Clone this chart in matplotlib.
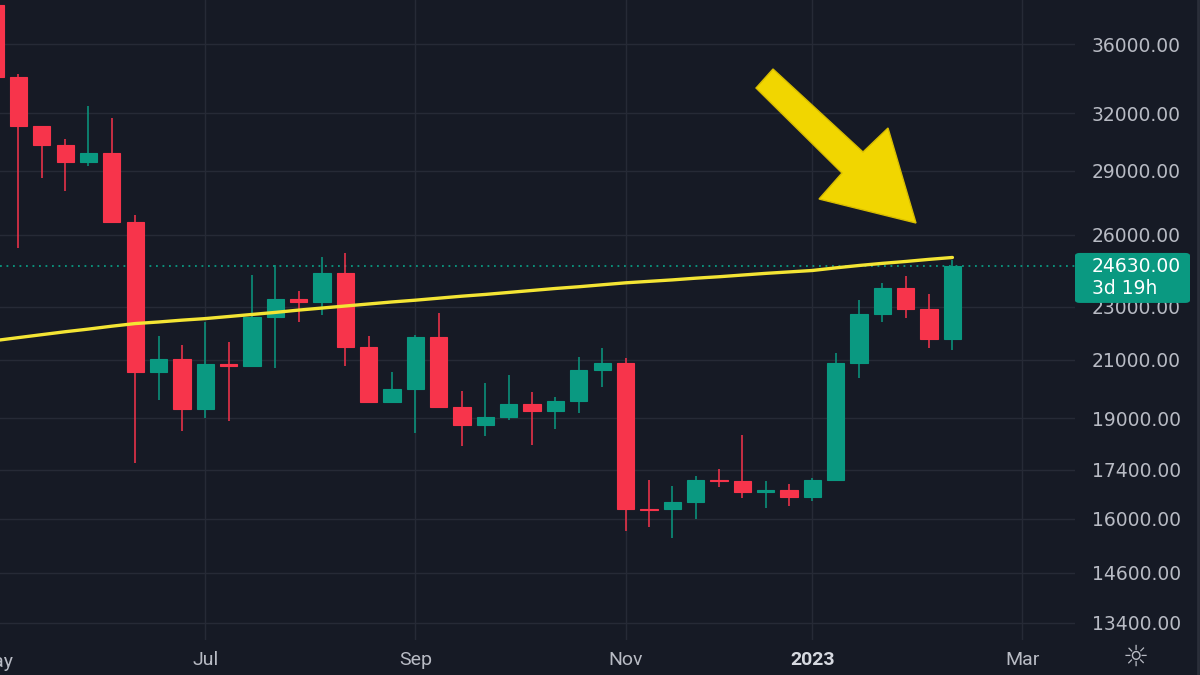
import numpy as np
import pandas as pd
import matplotlib
matplotlib.use("Agg")
import matplotlib.pyplot as plt
from matplotlib.patches import Polygon, FancyBboxPatch

# weekly BTC candles, week starts (Monday)
weeks = pd.date_range("2022-05-02", periods=42, freq="7D")

opens  = [38470, 34060, 31300, 30290, 29440, 29900, 26570, 20550, 21030, 19300,
          20850, 20780, 22600, 23290, 23175, 24340, 21450, 19540, 19980, 21830,
          19370, 18780, 19040, 19460, 19240, 19570, 20620, 20900, 16280, 16260,
          16460, 17110, 17070, 16740, 16820, 16600, 17110, 20880, 22710, 23730,
          22900, 21770]
highs  = [40020, 34240, 31330, 30610, 32400, 31750, 26880, 21860, 21520, 22400,
          21660, 24280, 24670, 23600, 25050, 25200, 21860, 20560, 21900, 22730,
          19920, 20180, 20460, 19890, 19700, 21090, 21440, 21050, 17110, 16930,
          17230, 17430, 18470, 17070, 16970, 17160, 21260, 23260, 23940, 24240,
          23480, 24900]
lows   = [33710, 25400, 28640, 28000, 29250, 26560, 17600, 19620, 18600, 19000,
          18900, 20750, 20720, 22400, 22660, 20760, 19520, 19500, 18530, 19340,
          18130, 18450, 18950, 18140, 18650, 19180, 20040, 15660, 15780, 15480,
          16000, 16890, 16580, 16290, 16370, 16500, 17100, 20350, 22390, 22540,
          21410, 21340]
closes = [34060, 31300, 30290, 29440, 29900, 26570, 20550, 21030, 19300, 20850,
          20780, 22600, 23290, 23175, 24340, 21450, 19540, 19980, 21830, 19370,
          18780, 19040, 19460, 19240, 19570, 20620, 20900, 16280, 16250, 16460,
          17110, 17070, 16740, 16820, 16600, 17110, 20880, 22710, 23730, 22900,
          21770, 24630]
ma200  = [21700, 21810, 21920, 22030, 22130, 22240, 22340, 22400, 22470, 22530,
          22610, 22690, 22770, 22860, 22940, 23020, 23100, 23180, 23250, 23330,
          23410, 23480, 23560, 23640, 23720, 23790, 23870, 23950, 24010, 24070,
          24140, 24200, 24270, 24340, 24400, 24460, 24570, 24670, 24760, 24840,
          24930, 25010]

price_ticks = [13400, 14600, 16000, 17400, 19000, 21000, 23000, 26000, 29000, 32000, 36000]
last_price = 24630
countdown = "3d 19h"
month_names = ["May", "Jul", "Sep", "Nov", "2023", "Mar"]
month_starts = ["2022-05", "2022-07", "2022-09", "2022-11", "2023-01", "2023-03"]

bg = "#161a25"
grid_c = "#262a36"
up_c = "#0a9981"
dn_c = "#f7344b"
txt_c = "#b8bbc4"

fig = plt.figure(figsize=(12, 6.75), dpi=100, facecolor=bg)
ax = fig.add_axes([0.0, 35 / 675, 1075 / 1200, 640 / 675])
ax.set_facecolor(bg)
for s in ax.spines.values():
    s.set_visible(False)

x = np.arange(len(weeks))
o = np.array(opens); h = np.array(highs); l = np.array(lows); c = np.array(closes)
cols = [up_c if cc >= oo else dn_c for oo, cc in zip(o, c)]

ax.vlines(x, l, h, colors=cols, linewidth=1.1, zorder=3)
ax.bar(x, np.abs(c - o), bottom=np.minimum(o, c), width=0.74, color=cols,
       edgecolor=cols, linewidth=0.8, zorder=4)

ax.plot(x, ma200, color="#f4e534", linewidth=2.4, zorder=5, solid_capstyle="round")
ax.axhline(last_price, color=up_c, linestyle=(0, (1, 2.6)), linewidth=1.3, zorder=2)

ax.set_yscale("log")
ax.set_xlim(0.21, 46.25)
ax.set_ylim(13010, 38830)
ax.minorticks_off()
ax.set_yticks(price_ticks)
ax.set_yticklabels([f"{p:.2f}" for p in price_ticks])
ax.yaxis.tick_right()
ax.tick_params(axis="y", length=0, pad=12, labelcolor=txt_c, labelsize=13.5)
for t in ax.get_yticklabels():
    t.set_fontfamily("DejaVu Sans")

# month ticks at the first weekly bar of each month
all_weeks = pd.date_range("2022-05-02", "2023-03-31", freq="7D")
tick_pos = []
for m in month_starts:
    idx = np.where(all_weeks.strftime("%Y-%m") == m)[0][0]
    tick_pos.append(idx)
ax.set_xticks(tick_pos[1:])
ax.set_xticklabels(month_names[1:])
ax.tick_params(axis="x", length=0, pad=8, labelcolor=txt_c, labelsize=14)
for t in ax.get_xticklabels():
    t.set_fontfamily("Roboto")
    if t.get_text() == "2023":
        t.set_fontweight("bold")
        t.set_color("#d6d9e0")
# "May" sits on the cut-off first bar
ax.text(tick_pos[0], -0.021, month_names[0], transform=ax.get_xaxis_transform(),
        ha="center", va="top", fontsize=14, color=txt_c, family="Roboto", clip_on=False)

ax.grid(True, color=grid_c, linewidth=1.0, zorder=0)
ax.set_axisbelow(True)

# last price badge on the price scale
yfig = fig.transFigure.inverted().transform(ax.transData.transform((0, last_price)))[1]
bx0, bx1 = 1075 / 1200, 1190 / 1200
bh = 50 / 675
badge = FancyBboxPatch((bx0, yfig - bh / 2 - 11.5 / 675), bx1 - bx0, bh,
                       boxstyle="round,pad=0,rounding_size=0.004",
                       transform=fig.transFigure, facecolor=up_c, edgecolor="none", zorder=10)
fig.add_artist(badge)
fig.text(1092 / 1200, yfig, f"{last_price:.2f}", color="white", fontsize=13.5,
         family="DejaVu Sans", va="center", ha="left", zorder=11)
fig.text(1092 / 1200, yfig - 22 / 675, countdown, color="white", fontsize=13.5,
         family="DejaVu Sans", va="center", ha="left", zorder=11)

# settings icon
fig.text(1136 / 1200, 1 - 658 / 675, "\u263c", color=txt_c, fontsize=21,
         family="DejaVu Sans", ha="center", va="center")
fig.add_artist(plt.Line2D([0.9985, 0.9985], [0, 1], color="#2a2e39", linewidth=2))

# big yellow arrow pointing at the last candle
arrow_px = [(756, 88), (842, 173), (819, 199), (916, 223), (888, 128), (863, 152), (773, 69)]
arrow = Polygon([(px / 1200, 1 - py / 675) for px, py in arrow_px], closed=True,
                transform=fig.transFigure, facecolor="#f1d600", edgecolor="#d8bd00",
                linewidth=1, zorder=12)
fig.add_artist(arrow)

fig.savefig("out.png", dpi=100, facecolor=bg)
